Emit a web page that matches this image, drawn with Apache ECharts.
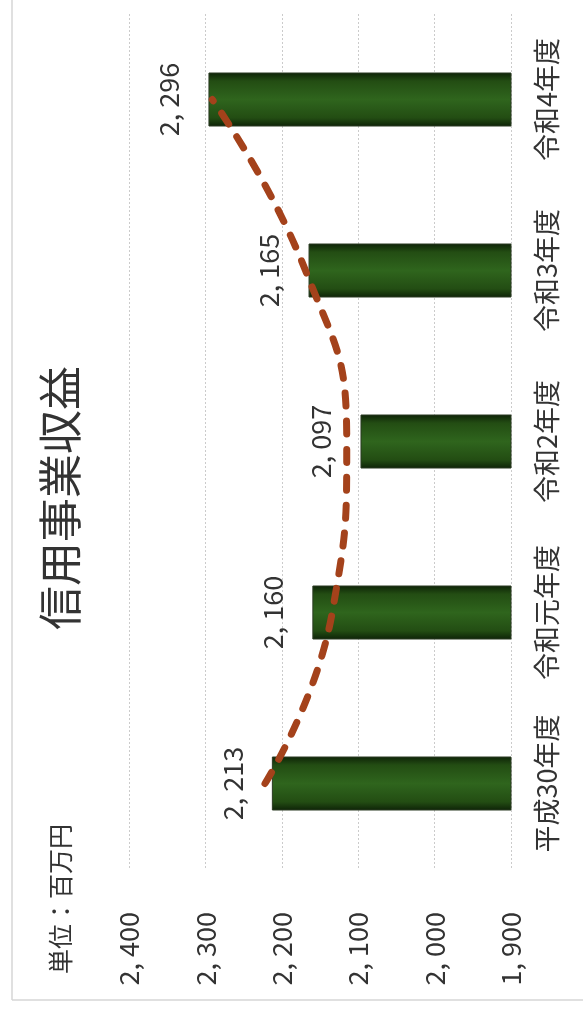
<!DOCTYPE html>
<html>
<head>
<meta charset="utf-8">
<script src="https://cdn.jsdelivr.net/npm/echarts@6/dist/echarts.min.js"></script>
<style>
html,body{margin:0;padding:0;background:#fff;}
#c{width:583px;height:1014px;}
</style>
</head>
<body>
<div id="c"></div>
<script>
const categories = ['平成30年度', '令和元年度', '令和2年度', '令和3年度', '令和4年度'];
const revenue = [2213, 2160, 2097, 2165, 2296];
const trend = [2222, 2134, 2115, 2169, 2291];
const axisMin = 1900, axisMax = 2400, axisStep = 100;
const titleText = '信用事業収益';
const unitText = '単位：百万円';

function fmt(v) {
  return Math.floor(v / 1000) + ', ' + String(v % 1000).padStart(3, '0');
}

const FONT = '"Noto Sans CJK JP", "Noto Sans", sans-serif';
const chart = echarts.init(document.getElementById('c'), null, {renderer: 'canvas'});

chart.setOption({
  backgroundColor: '#ffffff',
  animation: false,
  grid: {left: 129, right: 72, top: 14, bottom: 145, containLabel: false, outerBoundsMode: 'none'},
  xAxis: {
    type: 'value', min: axisMin, max: axisMax, interval: axisStep, inverse: true,
    position: 'bottom',
    axisLine: {show: false}, axisTick: {show: false},
    splitLine: {show: true, lineStyle: {color: '#cbcbcb', width: 1, type: [2, 2]}},
    axisLabel: {
      rotate: 90, margin: 43, align: 'right', verticalAlign: 'middle',
      fontSize: 27, color: '#333', fontFamily: FONT,
      formatter: v => fmt(v)
    }
  },
  yAxis: {
    type: 'category', data: categories, position: 'right',
    axisLine: {show: false}, axisTick: {show: false},
    splitLine: {show: false},
    axisLabel: {
      interval: 0, rotate: 90, margin: 22, align: 'center', verticalAlign: 'top',
      fontSize: 27, color: '#333', fontFamily: FONT
    }
  },
  series: [
    {
      type: 'bar', data: revenue, barWidth: 54, z: 2,
      itemStyle: {
        borderColor: '#2a3a22', borderWidth: 1,
        color: new echarts.graphic.LinearGradient(0, 0, 0, 1, [
          {offset: 0, color: '#0d2207'},
          {offset: 0.16, color: '#234d13'},
          {offset: 0.5, color: '#2f651d'},
          {offset: 0.84, color: '#234d13'},
          {offset: 1, color: '#0d2207'}
        ])
      },
      label: {
        show: true, position: 'left', distance: 26, rotate: 90,
        align: 'center', verticalAlign: 'bottom',
        fontSize: 27, color: '#333', fontFamily: FONT,
        formatter: p => fmt(p.value)
      }
    },
    {
      type: 'line', data: trend, smooth: 0.5, symbol: 'none', z: 5,
      lineStyle: {color: '#a4421b', width: 7, type: [13, 15], cap: 'round'}
    }
  ],
  graphic: [
    {type: 'line', shape: {x1: 12, y1: 0, x2: 12, y2: 1000}, style: {stroke: '#d6d6d6', lineWidth: 1.5}},
    {type: 'line', shape: {x1: 12, y1: 1000, x2: 583, y2: 1000}, style: {stroke: '#d6d6d6', lineWidth: 1.5}},
    {type: 'text', x: 60, y: 498, rotation: Math.PI / 2,
      style: {text: titleText, font: '44px ' + FONT, fill: '#333', textAlign: 'center', textVerticalAlign: 'middle'}},
    {type: 'text', x: 60, y: 899, rotation: Math.PI / 2,
      style: {text: unitText, font: '25px ' + FONT, fill: '#333', textAlign: 'center', textVerticalAlign: 'middle'}}
  ]
});
</script>
</body>
</html>
